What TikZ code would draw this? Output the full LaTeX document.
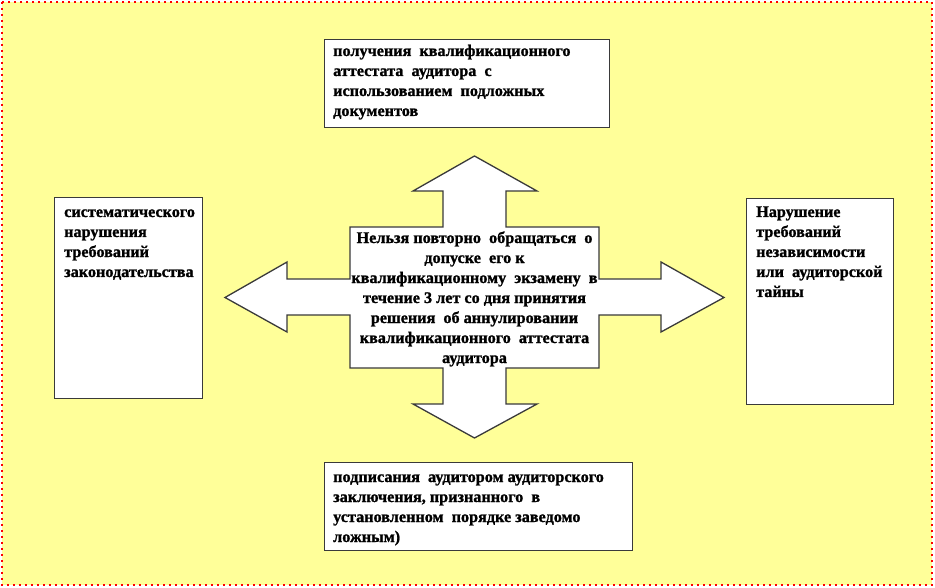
\documentclass[tikz,border=0pt]{standalone}
\usepackage{fontspec}
\setmainfont{Liberation Serif}[BoldFeatures={FakeBold=1.2}]
\definecolor{bgyellow}{HTML}{FFFF99}
\definecolor{edgegray}{HTML}{3A3A3A}
\begin{document}
\begin{tikzpicture}[x=1pt,y=-1pt,
  box/.style={draw=edgegray, line width=1.3pt, fill=white, inner sep=0pt, anchor=north west},
  txt/.style={font=\fontsize{16.2}{20}\selectfont\bfseries, inner sep=0pt, align=left, anchor=base west},
  ctxt/.style={font=\fontsize{16.2}{20}\selectfont\bfseries, inner sep=0pt, align=center, anchor=base},
  quad/.style={draw=edgegray, line width=1.3pt, fill=white, line join=miter}
  ]
\useasboundingbox (0,0) rectangle (935,588);
\fill[bgyellow] (2,2) rectangle (932,585);
\draw[red, line width=2pt, dash pattern=on 2pt off 4pt] (2,2) rectangle (932,585);

% central four-way arrow
\draw[quad] (350,227) -- (443,227) -- (443,191) -- (413,191) -- (474.5,156) -- (537,191) -- (506,191) -- (506,227)
  -- (599,227) -- (599,279) -- (661,279) -- (661,262) -- (724,297.5) -- (661,332) -- (661,315) -- (599,315)
  -- (599,368) -- (506,368) -- (506,404) -- (537,404) -- (474.5,438) -- (413,404) -- (443,404) -- (443,368)
  -- (350,368) -- (350,315) -- (287,315) -- (287,332) -- (225,297.5) -- (287,262) -- (287,279) -- (350,279) -- cycle;
% anchor "base" of a multi-line node is the baseline of its last line
\node[ctxt] (C) at (474.5,363) {Нельзя повторно\ \ обращаться\ \ о\\допуске\ \ его к\\квалификационному\ \ экзамену\ \ в\\течение 3 лет со дня принятия\\решения\ \ об аннулировании\\квалификационного\ \ аттестата\\аудитора};

% boxes
\node[box, minimum width=285pt, minimum height=88pt] (T) at (324,39) {};
\node[txt] (Tt) at (333,116) {получения\ \ квалификационного\\аттестата\ \ аудитора\ \ с\\использованием\ \ подложных\\документов};

\node[box, minimum width=148pt, minimum height=201pt] (L) at (54,197) {};
\node[txt] (Lt) at (64,277) {систематического\\нарушения\\требований\\законодательства};

\node[box, minimum width=147pt, minimum height=206pt] (R) at (746,198) {};
\node[txt] (Rt) at (756,297) {Нарушение\\требований\\независимости\\или\ \ аудиторской\\тайны};

\node[box, minimum width=308pt, minimum height=88pt] (B) at (324,462) {};
\node[txt] (Bt) at (333,542) {подписания\ \ аудитором аудиторского\\заключения,\ признанного\ \ в\\установленном\ \ порядке заведомо\\ложным)};
\end{tikzpicture}
\end{document}
